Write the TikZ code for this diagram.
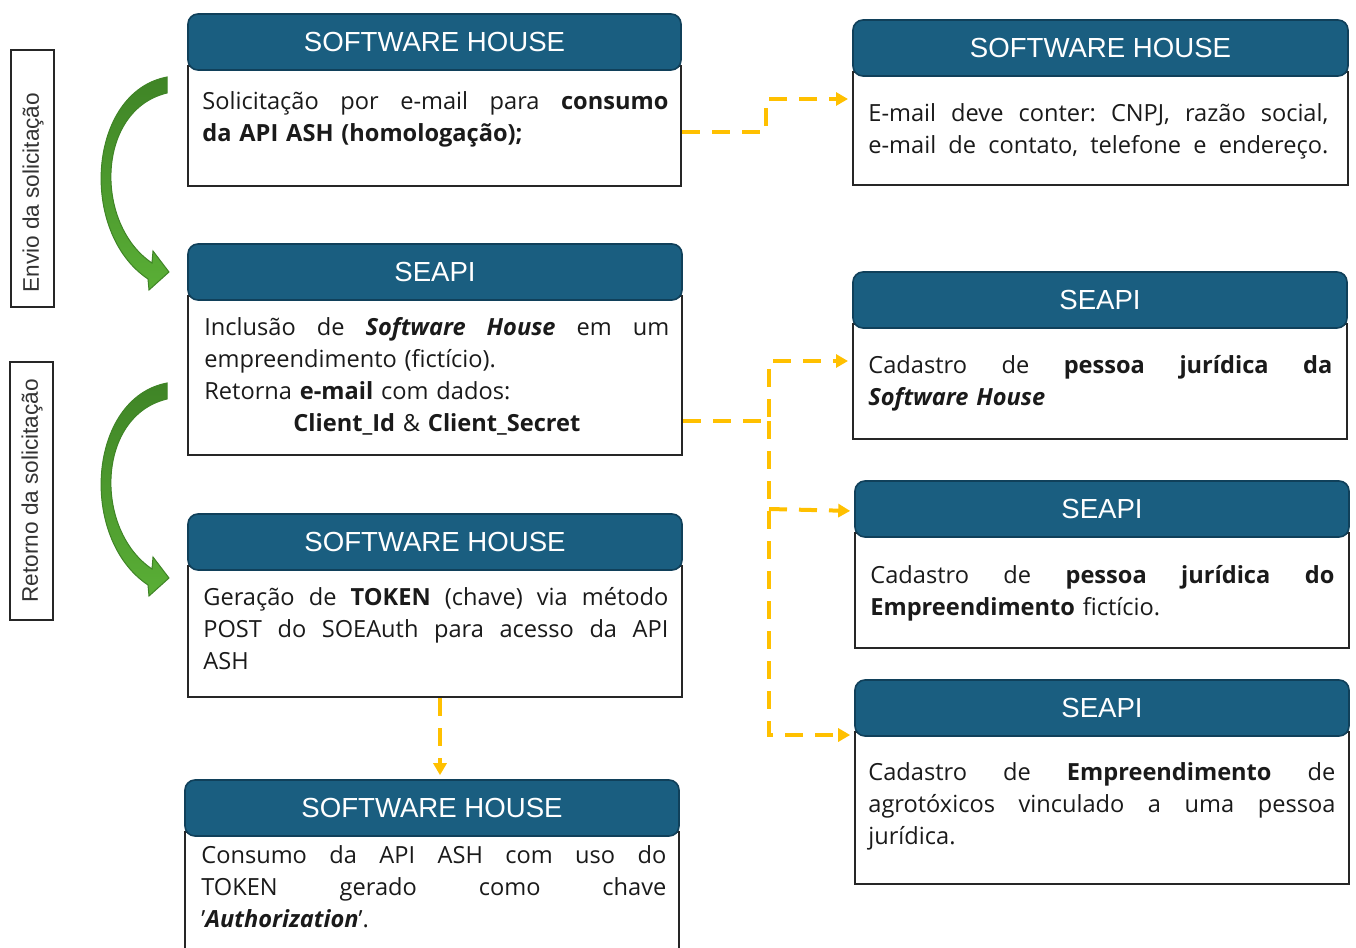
\documentclass[tikz,border=0pt]{standalone}
\usepackage{fontspec}
\setmainfont{Open Sans}
\newfontfamily\hdrfont{Liberation Sans}
\usetikzlibrary{arrows.meta}
\definecolor{hdrblue}{HTML}{1A5E80}
\definecolor{hdrline}{HTML}{10405A}
\definecolor{conny}{HTML}{FFC000}
\definecolor{gdark}{HTML}{3F8426}
\definecolor{glight}{HTML}{5AAF36}
\definecolor{txt}{HTML}{1A1A1A}
\frenchspacing
\newcommand\jl[1]{\makebox[\hsize][s]{\spaceskip=0pt\xspaceskip=0pt\relax #1}}
\newcommand\mkbox[7]{%
  \pgfmathsetmacro\mbxc{(#2+#3)/2}%
  \pgfmathsetmacro\mbw{(#3-#2)/2}%
  \pgfmathsetmacro\mhyc{(#4+#5)/2}%
  \pgfmathsetmacro\mhh{(#5-#4)/2}%
  \pgfmathsetmacro\mbyc{(#5-4+#6)/2}%
  \pgfmathsetmacro\mbh{(#6-#5+4)/2}%
  \node[bodybox, minimum width=\mbw pt, minimum height=\mbh pt] (#1b) at (\mbxc,\mbyc) {};
  \node[hdrbox, minimum width=\mbw pt, minimum height=\mhh pt] (#1h) at (\mbxc,\mhyc) {#7};
}
\begin{document}
\begin{tikzpicture}[x=0.5pt,y=-0.5pt,
 hdrbox/.style={draw=hdrline, line width=0.8pt, fill=hdrblue, rounded corners=5pt, text=white, font=\hdrfont\fontsize{13.8}{16}\selectfont, inner sep=0pt},
 bodybox/.style={draw=black!85, line width=1pt, fill=white, inner sep=0pt},
 bodytext/.style={anchor=north west, inner sep=0pt, align=left, text=txt, font=\fontsize{11.8}{16}\selectfont},
 conn/.style={draw=conny, line width=2pt, dash pattern=on 9pt off 6pt, -{Triangle[length=6pt,width=6.5pt]}, shorten >=2pt},
 lblbox/.style={draw=black!85, line width=1pt, inner sep=0pt},
 lbltext/.style={rotate=90, anchor=west, inner sep=0pt, text=black!80, font=\hdrfont\fontsize{11.3}{13}\selectfont},
 garrow/.style={top color=gdark, bottom color=glight, draw=gdark, line width=0.5pt},
]
\useasboundingbox (0,0) rectangle (1356,948);
\clip (0,0) rectangle (1356,948);

% boxes
\mkbox{La}{188}{681}{14}{70}{186}{SOFTWARE HOUSE}
\mkbox{Lb}{188}{682}{244}{300}{455}{SEAPI}
\mkbox{Lc}{188}{682}{514}{570}{697}{SOFTWARE HOUSE}
\mkbox{Ld}{185}{679}{780}{836}{970}{SOFTWARE HOUSE}
\mkbox{Ra}{853}{1348}{20}{76}{185}{SOFTWARE HOUSE}
\mkbox{Rb}{853}{1347}{272}{328}{439}{SEAPI}
\mkbox{Rc}{855}{1349}{481}{537}{648}{SEAPI}
\mkbox{Rd}{855}{1349}{680}{736}{884}{SEAPI}

% texts
\node[bodytext, text width=233pt] (ta) at (202,86.6)
 {\jl{\strut Solicitação por e-mail para \textbf{consumo}}\\
  \textbf{da API ASH (homologação);}};
\node[bodytext, text width=232.5pt] (tb) at (204,312.6)
 {\jl{\strut Inclusão de \textbf{\textit{Software House}} em um}\\
  empreendimento (fictício).\\
  Retorna \textbf{e-mail} com dados:\\
  \makebox[\hsize][c]{\textbf{Client\_Id} \& \textbf{Client\_Secret}}};
\node[bodytext, text width=232.5pt] (tc) at (203,582.6)
 {\jl{\strut Geração de \textbf{TOKEN} (chave) via método}\\
  \jl{POST do SOEAuth para acesso da API}\\
  ASH};
\node[bodytext, text width=232.5pt] (td) at (201,840.6)
 {\jl{\strut Consumo da API ASH com uso do}\\
  \jl{TOKEN gerado como chave}\\
  '\textbf{\textit{Authorization}}'.};
\node[bodytext, text width=230pt] (ra) at (868,98.6)
 {\jl{\strut E-mail deve conter: CNPJ, razão social,}\\
  \jl{e-mail de contato, telefone e endereço.}};
\node[bodytext, text width=232pt] (rb) at (868,350.6)
 {\jl{\strut Cadastro de \textbf{pessoa jurídica da}}\\
  \textbf{\textit{Software House}}};
\node[bodytext, text width=232pt] (rc) at (870,560.6)
 {\jl{\strut Cadastro de \textbf{pessoa jurídica do}}\\
  \textbf{Empreendimento} fictício.};
\node[bodytext, text width=233.5pt] (rd) at (868,757.6)
 {\jl{\strut Cadastro de \textbf{Empreendimento} de}\\
  \jl{agrotóxicos vinculado a uma pessoa}\\
  jurídica.};

% side labels
\node[lblbox, minimum width=21.5pt, minimum height=128.5pt] (ea) at (32.5,178.5) {};
\node[lbltext] (eat) at (33,293) {Envio da solicitação};
\node[lblbox, minimum width=21.5pt, minimum height=129pt] (eb) at (31.5,491) {};
\node[lbltext] (ebt) at (32,603) {Retorno da solicitação};

% green curved arrows
\path[garrow] (167,77) .. controls (88,92) and (78,232) .. (148,279) -- (149,290) -- (169,272) -- (153,251) -- (152,263) .. controls (94,224) and (96,110) .. (167,93) -- cycle;
\begin{scope}[yshift=-153pt]
\path[garrow] (167,77) .. controls (88,92) and (78,232) .. (148,279) -- (149,290) -- (169,272) -- (153,251) -- (152,263) .. controls (94,224) and (96,110) .. (167,93) -- cycle;
\end{scope}

% dashed connectors
\draw[conn] ([yshift=-3pt]Lab.east) -- ++(42pt,0) |- ([yshift=14.75pt]Rab.west);
\coordinate (jn) at ([xshift=43pt,yshift=-22.75pt]Lbb.east);
\draw[conn, shorten <=0pt] ([yshift=-22.75pt]Lbb.east) -- (jn) |- ([yshift=10.25pt]Rbb.west);
\draw[conn] (jn) |- ([yshift=-13.5pt]Rdh.west);
\draw[conn] (jn |- Rch.west) -- ([yshift=-1pt]Rch.west);
\draw[conn] ([xshift=2.5pt]Lcb.south) -- ([xshift=2.5pt]Lcb.south |- Ldh.north);
\end{tikzpicture}
\end{document}
